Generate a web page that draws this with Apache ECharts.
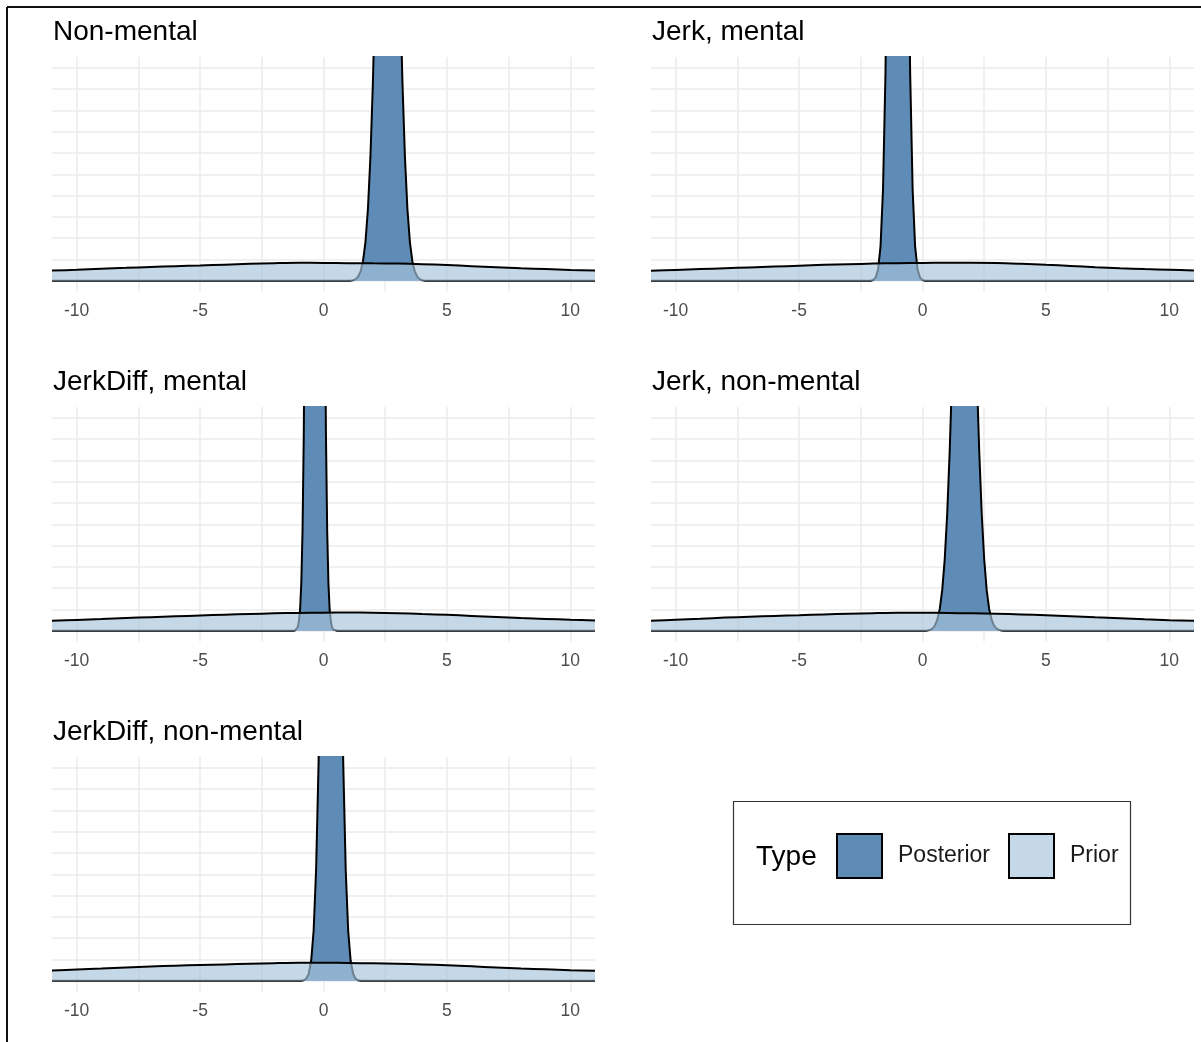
<!DOCTYPE html>
<html><head><meta charset="utf-8">
<script src="https://cdn.jsdelivr.net/npm/echarts@6/dist/echarts.min.js"></script>
<style>html,body{margin:0;padding:0;background:#fff}#c{width:1201px;height:1042px}</style>
</head><body><div id="c"></div><script>
// ---- data ----
const panelTitles = ['Non-mental', 'Jerk, mental', 'JerkDiff, mental', 'Jerk, non-mental', 'JerkDiff, non-mental'];
const xTickLabels = [-10, -5, 0, 5, 10];
const xGridValues = [-10, -7.5, -5, -2.5, 0, 2.5, 5, 7.5, 10];
const yGridValues = [0, 1, 2, 3, 4, 5, 6, 7, 8, 9, 10];
const seriesNames = ['Posterior', 'Prior'];

// prior density (same x grid for every panel)
const priorX = [-11, -10, -9, -8, -7, -6, -5, -4, -3, -2, -1, 0, 1, 2, 3, 4, 5, 6, 7, 8, 9, 10, 11];
const priorNonMental       = [0.48, 0.52, 0.57, 0.61, 0.65, 0.69, 0.72, 0.76, 0.80, 0.83, 0.85, 0.84, 0.83, 0.82, 0.81, 0.78, 0.74, 0.69, 0.64, 0.59, 0.55, 0.51, 0.48];
const priorJerkMental      = [0.47, 0.51, 0.55, 0.59, 0.63, 0.67, 0.71, 0.75, 0.78, 0.81, 0.83, 0.84, 0.85, 0.85, 0.84, 0.80, 0.75, 0.70, 0.64, 0.59, 0.55, 0.52, 0.49];
const priorJerkDiffMental  = [0.47, 0.51, 0.55, 0.60, 0.64, 0.68, 0.72, 0.76, 0.79, 0.82, 0.84, 0.85, 0.86, 0.85, 0.83, 0.79, 0.75, 0.70, 0.65, 0.60, 0.56, 0.52, 0.49];
const priorJerkNonMental   = [0.47, 0.52, 0.57, 0.62, 0.66, 0.70, 0.73, 0.77, 0.80, 0.83, 0.85, 0.85, 0.84, 0.82, 0.80, 0.77, 0.73, 0.69, 0.64, 0.59, 0.54, 0.50, 0.47];
const priorJerkDiffNonMental = [0.48, 0.53, 0.58, 0.63, 0.67, 0.71, 0.74, 0.77, 0.80, 0.83, 0.85, 0.85, 0.84, 0.82, 0.80, 0.77, 0.73, 0.68, 0.63, 0.58, 0.54, 0.50, 0.47];

// posterior density, [x, density] (peaks run far above the clipped top)
const postNonMental = [[-11,0],[0.8,0],[1.0,0.003],[1.1,0.01],[1.2,0.03],[1.3,0.08],[1.4,0.19],[1.5,0.43],[1.6,0.92],[1.7,1.82],[1.8,3.37],[1.9,5.79],[2.0,9.26],[2.1,13.8],[2.2,19.1],[2.3,24.6],[2.4,29.4],[2.5,32.8],[2.6,34],[2.7,32.8],[2.8,29.4],[2.9,24.6],[3.0,19.1],[3.1,13.8],[3.2,9.26],[3.3,5.79],[3.4,3.37],[3.5,1.82],[3.6,0.92],[3.7,0.43],[3.8,0.19],[3.9,0.08],[4.0,0.03],[4.1,0.01],[4.2,0.003],[4.4,0],[11,0]];
const postJerkMental = [[-11,0],[-2.3,0],[-2.1,0.008],[-2.0,0.036],[-1.9,0.15],[-1.8,0.53],[-1.7,1.63],[-1.6,4.3],[-1.5,9.75],[-1.4,19.1],[-1.3,32.1],[-1.2,46.6],[-1.1,58.3],[-1.0,62.8],[-0.9,58.3],[-0.8,46.6],[-0.7,32.1],[-0.6,19.1],[-0.5,9.75],[-0.4,4.3],[-0.3,1.63],[-0.2,0.53],[-0.1,0.15],[0.0,0.036],[0.1,0.008],[0.3,0],[11,0]];
const postJerkDiffMental = [[-11,0],[-1.35,0],[-1.25,0.002],[-1.15,0.019],[-1.10,0.056],[-1.05,0.16],[-1.00,0.41],[-0.95,0.98],[-0.90,2.22],[-0.85,4.66],[-0.80,9.12],[-0.75,16.7],[-0.70,28.3],[-0.65,44.8],[-0.55,90.8],[-0.45,139],[-0.35,160],[-0.25,139],[-0.15,90.8],[-0.05,44.8],[0.0,28.3],[0.05,16.7],[0.10,9.12],[0.15,4.66],[0.20,2.22],[0.25,0.98],[0.30,0.41],[0.35,0.16],[0.40,0.056],[0.45,0.019],[0.55,0.002],[0.65,0],[11,0]];
const postJerkNonMental = [[-11,0],[-0.1,0],[0.1,0.006],[0.2,0.017],[0.3,0.045],[0.4,0.108],[0.5,0.245],[0.6,0.52],[0.7,1.03],[0.8,1.92],[0.9,3.35],[1.0,5.48],[1.1,8.38],[1.2,12.0],[1.3,16.1],[1.4,20.3],[1.5,23.9],[1.6,26.3],[1.7,27.2],[1.8,26.3],[1.9,23.9],[2.0,20.3],[2.1,16.1],[2.2,12.0],[2.3,8.38],[2.4,5.48],[2.5,3.35],[2.6,1.92],[2.7,1.03],[2.8,0.52],[2.9,0.245],[3.0,0.108],[3.1,0.045],[3.2,0.017],[3.3,0.006],[3.5,0],[11,0]];
const postJerkDiffNonMental = [[-11,0],[-1.1,0],[-0.9,0.007],[-0.8,0.029],[-0.7,0.104],[-0.6,0.333],[-0.5,0.94],[-0.4,2.35],[-0.3,5.21],[-0.2,10.2],[-0.1,17.7],[0.0,27.1],[0.1,36.8],[0.2,44.2],[0.3,47],[0.4,44.2],[0.5,36.8],[0.6,27.1],[0.7,17.7],[0.8,10.2],[0.9,5.21],[1.0,2.35],[1.1,0.94],[1.2,0.333],[1.3,0.104],[1.4,0.029],[1.5,0.007],[1.7,0],[11,0]];

const priors = [priorNonMental, priorJerkMental, priorJerkDiffMental, priorJerkNonMental, priorJerkDiffNonMental];
const posteriors = [postNonMental, postJerkMental, postJerkDiffMental, postJerkNonMental, postJerkDiffNonMental];

// ---- layout / style ----
const FONT = '"Liberation Sans", Arial, Helvetica, sans-serif';
const postFill = 'rgb(95,140,182)';
const priorFill = 'rgba(167,196,220,0.66)';
const gridColor = '#ebebeb';
const panelPos = [[52, 57], [651, 57], [52, 407], [651, 407], [52, 757]];
const gridW = 543, gridH = 234.5;

const grids = [], xAxes = [], yAxes = [], series = [], titles = [];
panelPos.forEach((p, i) => {
  grids.push({ left: p[0], top: p[1], width: gridW, height: gridH, containLabel: false });
  xAxes.push({
    type: 'value', gridIndex: i, min: -11, max: 11,
    axisLine: { show: false },
    axisTick: { show: false, customValues: xGridValues },
    axisLabel: { customValues: xTickLabels, fontSize: 17.5, color: '#4d4d4d', fontFamily: FONT, margin: 10.5 },
    splitLine: { show: true, lineStyle: { color: gridColor, width: 1.5 } }
  });
  yAxes.push({
    type: 'value', gridIndex: i, min: -0.5, max: 10.5,
    axisLine: { show: false },
    axisTick: { show: false, customValues: yGridValues },
    axisLabel: { show: false },
    splitLine: { show: true, lineStyle: { color: gridColor, width: 1.5 } }
  });
  titles.push({
    text: panelTitles[i], left: p[0] + 1, top: p[1] - 39, padding: 0,
    textStyle: { fontSize: 28, fontWeight: 'normal', color: '#000', fontFamily: FONT }
  });
  series.push({
    type: 'line', name: seriesNames[0], xAxisIndex: i, yAxisIndex: i,
    data: posteriors[i], symbol: 'none', showSymbol: false, clip: true, silent: true,
    lineStyle: { color: '#000', width: 2 },
    itemStyle: { color: postFill },
    areaStyle: { color: postFill, opacity: 1 },
    animation: false, z: 2
  });
  series.push({
    type: 'line', name: seriesNames[1], xAxisIndex: i, yAxisIndex: i,
    data: priorX.map((x, j) => [x, priors[i][j]]), smooth: 0.3,
    symbol: 'none', showSymbol: false, clip: true, silent: true,
    lineStyle: { color: '#000', width: 2 },
    itemStyle: { color: priorFill },
    areaStyle: { color: priorFill, opacity: 1 },
    animation: false, z: 3
  });
});

const legendCommon = {
  orient: 'horizontal', padding: 0, itemWidth: 45, itemHeight: 44, icon: 'rect',
  selectedMode: false,
  itemStyle: { borderColor: '#000', borderWidth: 2 },
  textStyle: { fontSize: 23, color: '#1a1a1a', fontFamily: FONT, padding: [0, 0, 0, 11], lineHeight: 30 }
};

const chart = echarts.init(document.getElementById('c'), null, { renderer: 'canvas' });
chart.setOption({
  backgroundColor: '#fff',
  animation: false,
  title: titles,
  grid: grids,
  xAxis: xAxes,
  yAxis: yAxes,
  series: series,
  legend: [
    Object.assign({}, legendCommon, { left: 836, top: 833, data: [{ name: seriesNames[0], itemStyle: { color: postFill } }] }),
    Object.assign({}, legendCommon, { left: 1008, top: 833, data: [{ name: seriesNames[1], itemStyle: { color: priorFill } }] })
  ],
  graphic: [
    { type: 'line', shape: { x1: 7, y1: 7, x2: 7, y2: 1042 }, style: { stroke: '#111', lineWidth: 2 }, silent: true },
    { type: 'line', shape: { x1: 7, y1: 7, x2: 1201, y2: 7 }, style: { stroke: '#111', lineWidth: 2 }, silent: true },
    { type: 'rect', shape: { x: 733.5, y: 801.5, width: 397, height: 123 }, style: { fill: 'none', stroke: '#333', lineWidth: 1.2 }, silent: true, z: -1 },
    { type: 'text', left: 756, top: 843, style: { text: 'Type', fontSize: 28, fill: '#000', fontFamily: FONT }, silent: true }
  ]
});
</script></body></html>
